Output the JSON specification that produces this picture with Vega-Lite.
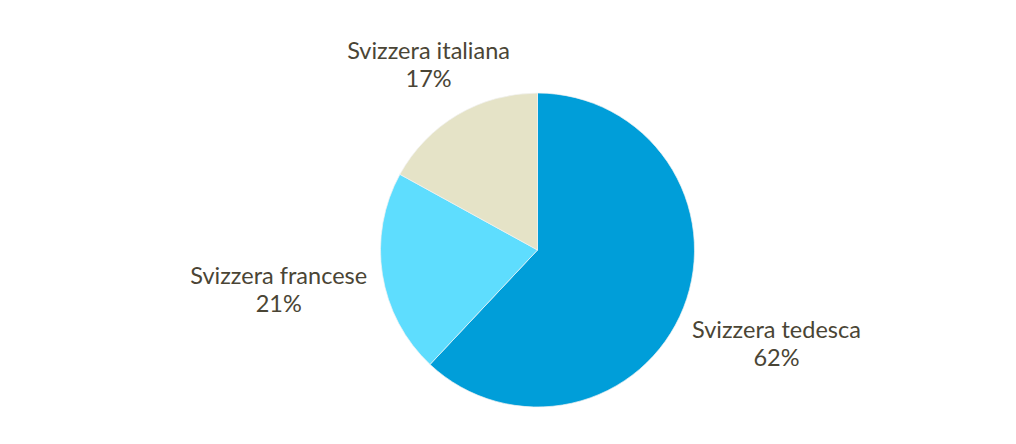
{
  "$schema": "https://vega.github.io/schema/vega-lite/v6.json",
  "width": 957,
  "height": 388,
  "autosize": "none",
  "padding": {"left": 59, "right": 0, "top": 56, "bottom": 0},
  "background": "white",
  "data": {
    "values": [
      {"regione": "Svizzera tedesca", "quota": 0.62, "ordine": 1},
      {"regione": "Svizzera francese", "quota": 0.21, "ordine": 2},
      {"regione": "Svizzera italiana", "quota": 0.17, "ordine": 3}
    ]
  },
  "transform": [
    {"calculate": "datum.regione + '\\n' + format(datum.quota, '.0%')", "as": "etichetta"}
  ],
  "encoding": {
    "theta": {"field": "quota", "type": "quantitative", "stack": true},
    "order": {"field": "ordine", "type": "ordinal"},
    "color": {
      "field": "regione",
      "type": "nominal",
      "scale": {
        "domain": ["Svizzera tedesca", "Svizzera francese", "Svizzera italiana"],
        "range": ["#009ED9", "#5EDDFE", "#E5E3C7"]
      },
      "legend": null
    }
  },
  "layer": [
    {"mark": {"type": "arc", "outerRadius": 157, "stroke": "#f2f2f2", "strokeWidth": 0.7}},
    {
      "mark": {"type": "text", "radius": 257, "dy": -14, "font": "Lato", "lineBreak": "\n", "lineHeight": 28, "align": "center", "baseline": "middle"},
      "encoding": {
        "text": {"condition": {"test": "datum.regione == 'Svizzera tedesca'", "field": "etichetta"}, "value": ""},
        "size": {"condition": {"test": "datum.regione == 'Svizzera tedesca'", "value": 23.5}, "value": 0},
        "color": {"value": "#4A4535"}
      }
    },
    {
      "mark": {"type": "text", "radius": 262, "dy": -14, "font": "Lato", "lineBreak": "\n", "lineHeight": 28, "align": "center", "baseline": "middle"},
      "encoding": {
        "text": {"condition": {"test": "datum.regione == 'Svizzera francese'", "field": "etichetta"}, "value": ""},
        "size": {"condition": {"test": "datum.regione == 'Svizzera francese'", "value": 23.5}, "value": 0},
        "color": {"value": "#4A4535"}
      }
    },
    {
      "mark": {"type": "text", "radius": 214, "dy": -14, "font": "Lato", "lineBreak": "\n", "lineHeight": 28, "align": "center", "baseline": "middle"},
      "encoding": {
        "text": {"condition": {"test": "datum.regione == 'Svizzera italiana'", "field": "etichetta"}, "value": ""},
        "size": {"condition": {"test": "datum.regione == 'Svizzera italiana'", "value": 23.5}, "value": 0},
        "color": {"value": "#4A4535"}
      }
    }
  ],
  "view": {"stroke": null}
}
